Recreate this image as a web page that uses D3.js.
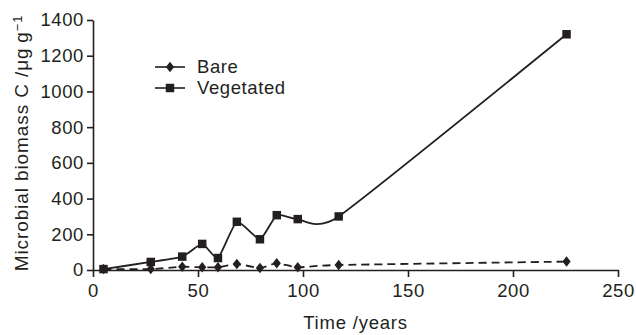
<!DOCTYPE html>
<html>
<head>
<meta charset="utf-8">
<script src="https://cdn.jsdelivr.net/npm/d3@7"></script>
<style>
  body { margin: 0; background: #fff; }
  svg text { font-family: "Liberation Sans", Arial, sans-serif; fill: #231f20; }
</style>
</head>
<body>
<div id="chart"></div>
<script>
// data
var years = [5, 27.5, 42.5, 52, 59.5, 68.5, 79.5, 87.5, 97.5, 117, 225.5];
var bare = [5, 5, 18, 15, 15, 34, 11, 38, 15, 28, 47];
var vegetated = [5, 45, 75, 146, 67, 270, 172, 307, 285, 300, 1320];
var xTicks = [0, 50, 100, 150, 200, 250];
var yTicks = [0, 200, 400, 600, 800, 1000, 1200, 1400];
var seriesNames = ['Bare', 'Vegetated'];

var width = 636,
    height = 335;
var margin = { top: 20, right: 18, bottom: 65, left: 93 };
var ink = '#231f20';

var svg = d3.select('#chart')
    .append('svg')
    .attr('width', width)
    .attr('height', height);

var x = d3.scaleLinear()
    .domain([0, 250])
    .range([margin.left, width - margin.right]);

var y = d3.scaleLinear()
    .domain([0, 1400])
    .range([height - margin.bottom, margin.top]);

// axes
var xAxis = svg.append('g')
    .attr('transform', 'translate(0,' + (height - margin.bottom) + ')')
    .call(d3.axisBottom(x).tickValues(xTicks).tickFormat(d3.format('d'))
        .tickSize(7).tickPadding(5).tickSizeOuter(0));

var yAxis = svg.append('g')
    .attr('transform', 'translate(' + margin.left + ',0)')
    .call(d3.axisLeft(y).tickValues(yTicks).tickFormat(d3.format('d'))
        .tickSize(6).tickPadding(3).tickSizeOuter(0));

[xAxis, yAxis].forEach(function(g) {
    g.selectAll('path, line').attr('stroke', ink).attr('stroke-width', 1.6);
    g.selectAll('text')
        .style('font-size', '18.5px')
        .style('letter-spacing', '0.6px')
        .attr('fill', ink);
});
xAxis.selectAll('text').attr('dy', '0.8em');

svg.append('text')
    .attr('x', (x(0) + x(250)) / 2)
    .attr('y', 329)
    .attr('text-anchor', 'middle')
    .style('font-size', '18.5px')
    .style('letter-spacing', '0.8px')
    .text('Time /years');

var yLabel = svg.append('text')
    .attr('transform', 'translate(28,' + 143 + ') rotate(-90)')
    .attr('text-anchor', 'middle')
    .style('font-size', '19px')
    .style('letter-spacing', '0.9px');
yLabel.append('tspan').text('Microbial biomass C /\u03bcg\u2009g');
yLabel.append('tspan').attr('dy', '-0.45em').style('font-size', '13px').text('\u22121');

// lines
var line = d3.line()
    .x(function(d) { return x(d[0]); })
    .y(function(d) { return y(d[1]); })
    .curve(d3.curveCardinal.tension(0.5));

var bareData = years.map(function(t, i) { return [t, bare[i]]; });
var vegData = years.map(function(t, i) { return [t, vegetated[i]]; });

svg.append('path')
    .datum(bareData)
    .attr('d', line)
    .attr('fill', 'none')
    .attr('stroke', ink)
    .attr('stroke-width', 1.8)
    .attr('stroke-dasharray', '8,5');

svg.append('path')
    .datum(vegData)
    .attr('d', line)
    .attr('fill', 'none')
    .attr('stroke', ink)
    .attr('stroke-width', 1.8);

var diamond = d3.symbol().type(d3.symbolDiamond).size(32);
var square = d3.symbol().type(d3.symbolSquare).size(72);

svg.selectAll('.bare-pt')
    .data(bareData)
    .enter()
    .append('path')
    .attr('class', 'bare-pt')
    .attr('d', diamond)
    .attr('transform', function(d) { return 'translate(' + x(d[0]) + ',' + y(d[1]) + ') scale(1.35,1)'; })
    .attr('fill', ink);

svg.selectAll('.veg-pt')
    .data(vegData)
    .enter()
    .append('path')
    .attr('class', 'veg-pt')
    .attr('d', square)
    .attr('transform', function(d) { return 'translate(' + x(d[0]) + ',' + y(d[1]) + ')'; })
    .attr('fill', ink);

// legend
var legend = svg.selectAll('.legend')
    .data(seriesNames)
    .enter()
    .append('g')
    .attr('class', 'legend')
    .attr('transform', function(d, i) {
        return 'translate(155,' + (67 + i * 21) + ')';
    });

legend.append('line')
    .attr('x1', 0)
    .attr('x2', 30)
    .attr('stroke', ink)
    .attr('stroke-width', 1.6);

legend.append('path')
    .attr('d', function(d, i) { return i === 0 ? diamond() : square(); })
    .attr('transform', function(d, i) { return i === 0 ? 'translate(15,0) scale(1.35,1)' : 'translate(15,0)'; })
    .attr('fill', ink);

legend.append('text')
    .attr('x', 42)
    .attr('dy', '0.35em')
    .style('font-size', '18.5px')
    .style('letter-spacing', '0.6px')
    .text(function(d) { return d; });
</script>
</body>
</html>
